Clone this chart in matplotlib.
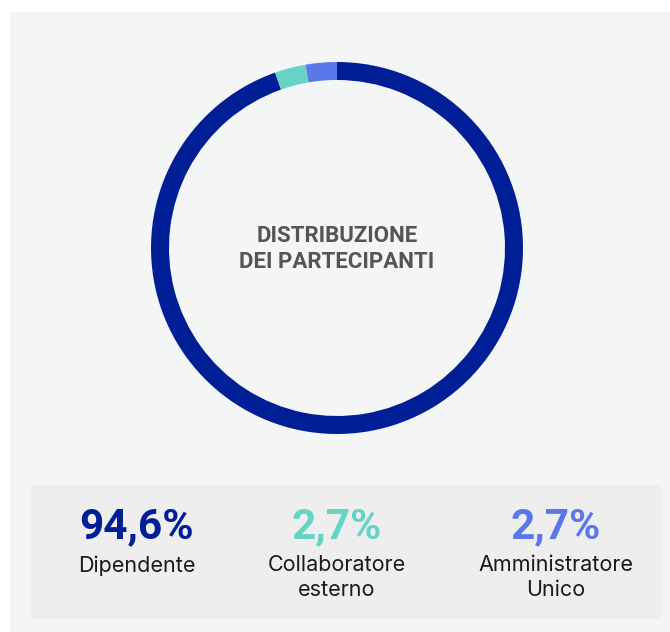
import matplotlib.pyplot as plt
from matplotlib.patches import Rectangle
from matplotlib import font_manager

# Data
categories = ["Dipendente", "Collaboratore\nesterno", "Amministratore\nUnico"]
shares = [94.6, 2.7, 2.7]
share_labels = ["94,6%", "2,7%", "2,7%"]
colors = ["#001e96", "#66d4c4", "#5b78ea"]

W, H = 670, 632
fig = plt.figure(figsize=(W / 100, H / 100), dpi=100, facecolor="white")


def fx(x):
    return x / W


def fy(y):
    return 1 - y / H


# Background panel and legend box
fig.add_artist(Rectangle((fx(10), 0), 1 - fx(10), fy(12), transform=fig.transFigure,
                         facecolor="#f4f6f6", edgecolor="none", zorder=-2))
fig.add_artist(Rectangle((fx(31), fy(619)), fx(662) - fx(31), fy(485) - fy(619),
                         transform=fig.transFigure, facecolor="#eeeeee",
                         edgecolor="none", zorder=-1))

# Donut
cx, cy, r = 337, 248, 186
ax = fig.add_axes([fx(cx - r), fy(cy + r), 2 * r / W, 2 * r / H])
ax.set_zorder(1)
ax.patch.set_visible(False)
ax.pie(shares, colors=colors, startangle=90, counterclock=False, radius=1,
       wedgeprops=dict(width=18 / r, edgecolor="none"))
ax.set_aspect("equal")
ax.set_xlim(-1, 1)
ax.set_ylim(-1, 1)
ax.axis("off")

names = {f.name for f in font_manager.fontManager.ttflist}
narrow = "Liberation Sans Narrow" if "Liberation Sans Narrow" in names else "Roboto"
title_font = dict(family=narrow, weight="bold")

fig.text(fx(cx), fy(249), "DISTRIBUZIONE\nDEI PARTECIPANTI", ha="center", va="center",
         fontsize=16, color="#555555", linespacing=1.2, **title_font)

# Legend columns
col_x = [137, 337, 556]
for x, val, lab, c in zip(col_x, share_labels, categories, colors):
    fig.text(fx(x), fy(538), val, ha="center", va="baseline", fontsize=30.5,
             color=c, **title_font)
    fig.text(fx(x), fy(555), lab, ha="center", va="top", fontsize=15.5,
             color="#1a1a1a", family="Inter", linespacing=1.3)

plt.savefig("out.png", dpi=100, facecolor=fig.get_facecolor())
